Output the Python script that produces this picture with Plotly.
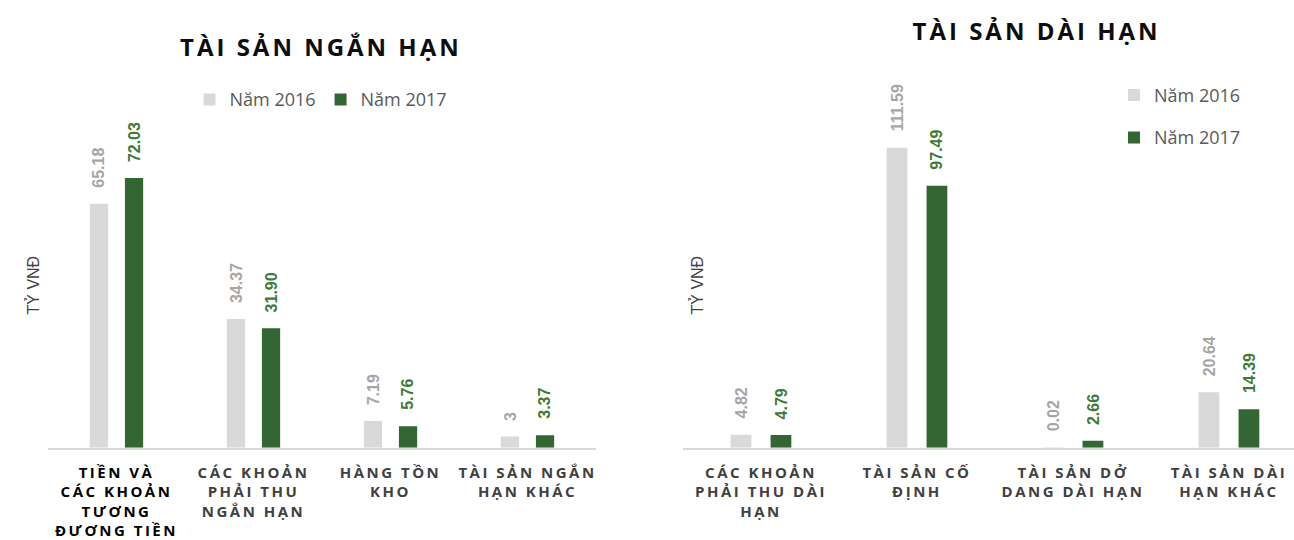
import plotly.graph_objects as go

# Short-term assets (tỷ VNĐ)
short_categories = [
    "<span style='color:#000000'>TIỀN VÀ<br>CÁC KHOẢN<br>TƯƠNG<br>ĐƯƠNG TIỀN</span>",
    "CÁC KHOẢN<br>PHẢI THU<br>NGẮN HẠN",
    "HÀNG TỒN<br>KHO",
    "TÀI SẢN NGẮN<br>HẠN KHÁC",
]
short_2016 = [65.18, 34.37, 7.19, 3]
short_2017 = [72.03, 31.90, 5.76, 3.37]

# Long-term assets (tỷ VNĐ)
long_categories = [
    "CÁC KHOẢN<br>PHẢI THU DÀI<br>HẠN",
    "TÀI SẢN CỐ<br>ĐỊNH",
    "TÀI SẢN DỞ<br>DANG DÀI HẠN",
    "TÀI SẢN DÀI<br>HẠN KHÁC",
]
long_2016 = [4.82, 111.59, 0.02, 20.64]
long_2017 = [4.79, 97.49, 2.66, 14.39]

series_names = ["Năm 2016", "Năm 2017"]
titles = ["TÀI SẢN NGẮN HẠN", "TÀI SẢN DÀI HẠN"]
unit_label = "TỶ VNĐ"

W, H = 1294, 540
GRAY, GREEN = "#d9d9d9", "#336633"
GRAY_TXT, GREEN_TXT = "#a5a5a5", "#3d7a35"
BARGAP, BARGROUPGAP = 0.488, 0.48

# plot areas (paper fractions) and value ranges
X1_DOM = [48 / W, 596 / W]
X2_DOM = [683 / W, 1.0]
X1_RANGE = [-0.5, 3.5]
X2_RANGE = [-0.5, 3.417]
Y_DOM = [1 - 458 / H, 1 - 62 / H]
Y1_RANGE = [0, 103.4]
Y2_RANGE = [0, 144]


def fmt_2016(v):
    return f"{v:g}"


def fmt_2017(v):
    return f"{v:.2f}"


def bar(cats, vals, name, color, xa, ya, legend, group):
    return go.Bar(
        x=cats, y=vals, name=name,
        marker=dict(color=color, line=dict(width=0)),
        xaxis=xa, yaxis=ya, legend=legend, legendgroup=group,
        hoverinfo="skip",
    )


def bar_offset_px(dom, rng):
    """Horizontal distance (px) from a category centre to each bar of a pair."""
    cat_px = (dom[1] - dom[0]) * W / (rng[1] - rng[0])
    return cat_px * (1 - BARGAP) / 4


def value_labels(cats, vals, fmt, color, xref, yref, shift):
    out = []
    for c, v in zip(cats, vals):
        out.append(dict(
            x=c, y=v, xref=xref, yref=yref, text=fmt(v), showarrow=False,
            textangle=-90, xanchor="center", yanchor="bottom",
            xshift=shift, yshift=14,
            font=dict(family="Liberation Sans", size=16, color=color, weight="bold"),
        ))
    return out


fig = go.Figure()
fig.add_trace(bar(short_categories, short_2016, series_names[0], GRAY, "x", "y", "legend", "a"))
fig.add_trace(bar(short_categories, short_2017, series_names[1], GREEN, "x", "y", "legend", "b"))
fig.add_trace(bar(long_categories, long_2016, series_names[0], GRAY, "x2", "y2", "legend2", "c"))
fig.add_trace(bar(long_categories, long_2017, series_names[1], GREEN, "x2", "y2", "legend2", "d"))

tick_font = dict(family="Open Sans", size=15, color="#404040", weight="bold")
xcommon = dict(showline=True, linecolor="#d9d9d9", linewidth=2, ticks="",
               showgrid=False, zeroline=False, tickfont=tick_font, fixedrange=True,
               tickangle=0, ticklabelstandoff=10)
ycommon = dict(visible=False, showgrid=False, zeroline=False, fixedrange=True)

legend_font = dict(family="Open Sans", size=18, color="#595959")
title_font = dict(family="Open Sans", size=24, color="#0d0d0d", weight="bold")
unit_font = dict(family="Liberation Sans", size=16, color="#404040")

off1 = bar_offset_px(X1_DOM, X1_RANGE)
off2 = bar_offset_px(X2_DOM, X2_RANGE)

annotations = [
    dict(text=titles[0], x=321 / W, y=1 - 48 / H, xref="paper", yref="paper",
         showarrow=False, xanchor="center", yanchor="middle", font=title_font),
    dict(text=titles[1], x=1036 / W, y=1 - 31 / H, xref="paper", yref="paper",
         showarrow=False, xanchor="center", yanchor="middle", font=title_font),
    dict(text=unit_label, x=33 / W, y=1 - 292 / H, xref="paper", yref="paper",
         showarrow=False, xanchor="center", yanchor="middle", textangle=-90, font=unit_font),
    dict(text=unit_label, x=697 / W, y=1 - 292 / H, xref="paper", yref="paper",
         showarrow=False, xanchor="center", yanchor="middle", textangle=-90, font=unit_font),
]
annotations += value_labels(short_categories, short_2016, fmt_2016, GRAY_TXT, "x", "y", -off1)
annotations += value_labels(short_categories, short_2017, fmt_2017, GREEN_TXT, "x", "y", off1)
annotations += value_labels(long_categories, long_2016, fmt_2016, GRAY_TXT, "x2", "y2", -off2)
annotations += value_labels(long_categories, long_2017, fmt_2017, GREEN_TXT, "x2", "y2", off2)

fig.update_layout(
    width=W, height=H,
    margin=dict(l=0, r=0, t=0, b=0),
    paper_bgcolor="white", plot_bgcolor="white",
    bargap=BARGAP, bargroupgap=BARGROUPGAP,
    barmode="group",
    xaxis=dict(domain=X1_DOM, anchor="y", range=X1_RANGE, **xcommon),
    yaxis=dict(domain=Y_DOM, anchor="x", range=Y1_RANGE, **ycommon),
    xaxis2=dict(domain=X2_DOM, anchor="y2", range=X2_RANGE, **xcommon),
    yaxis2=dict(domain=Y_DOM, anchor="x2", range=Y2_RANGE, **ycommon),
    showlegend=True,
    legend=dict(orientation="h", x=321 / W, xanchor="center", y=1 - 102 / H, yanchor="middle",
                font=legend_font, bgcolor="rgba(0,0,0,0)", itemclick=False, itemdoubleclick=False,
                traceorder="normal"),
    legend2=dict(orientation="v", x=1114 / W, xanchor="left", y=1 - 119 / H, yanchor="middle",
                 font=legend_font, bgcolor="rgba(0,0,0,0)", tracegroupgap=16,
                 itemclick=False, itemdoubleclick=False, traceorder="grouped"),
    annotations=annotations,
)

# Tracked-out lettering for the chart titles and category labels
letter_spacing_js = """
var st = document.createElement('style');
st.textContent = '.xtick text, .x2tick text{letter-spacing:2.5px}' +
  ' g.annotation[data-index="0"] text, g.annotation[data-index="1"] text{letter-spacing:3px}';
document.head.appendChild(st);
"""

fig.write_html("out.html", post_script=letter_spacing_js, config={"displayModeBar": False})
